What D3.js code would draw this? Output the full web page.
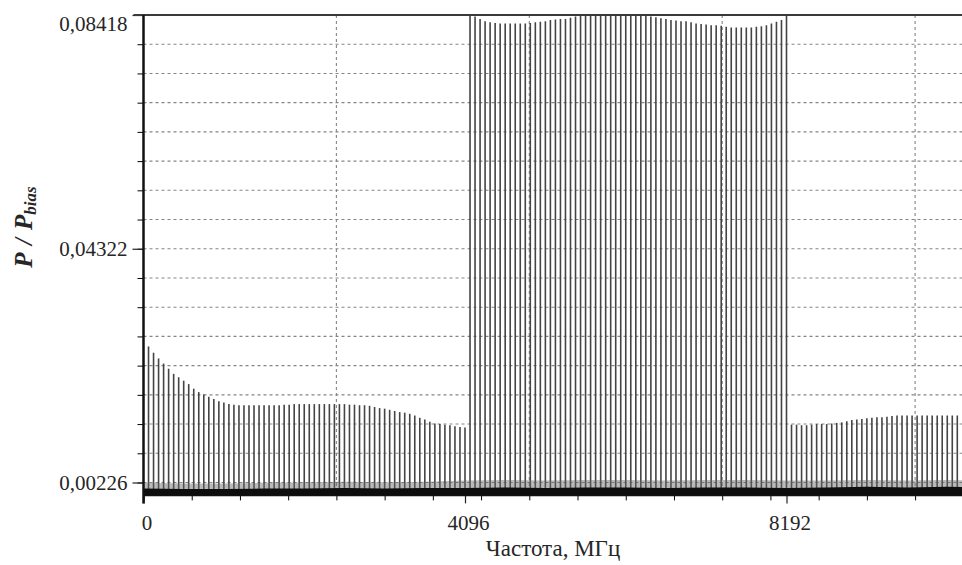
<!DOCTYPE html>
<html lang="ru">
<head>
    <meta charset="utf-8">
    <title>Спектр</title>
    <script src="https://d3js.org/d3.v7.min.js" charset="utf-8"></script>
    <style type="text/css">
        body { margin: 0; background: #fff; }
        text { font-family: "Liberation Serif", "Times New Roman", serif; fill: #262626; }
        .grid line { stroke: #858585; stroke-width: 1.1; stroke-dasharray: 3,3; }
        .spec { stroke: #444; stroke-width: 1.6; }
    </style>
</head>
<body>
<script type="text/javascript">
    // spectral lines every 64 MHz, first at 64
    var lineStep = 64;
    // 64 .. 4096
    var lowBandA = [
        0.0261, 0.0250, 0.0240, 0.0231, 0.0222, 0.0213, 0.0207, 0.0201, 0.0195, 0.0187,
        0.0181, 0.0177, 0.0173, 0.0169, 0.0165, 0.0163, 0.0160, 0.0159, 0.0158, 0.0158,
        0.0158, 0.0158, 0.0158, 0.0158, 0.0158, 0.0158, 0.0158, 0.0159, 0.0159, 0.0160,
        0.0160, 0.0160, 0.0160, 0.0160, 0.0160, 0.0160, 0.0160, 0.0160, 0.0160, 0.0160,
        0.0159, 0.0159, 0.0158, 0.0158, 0.0157, 0.0155, 0.0153, 0.0152, 0.0150, 0.0148,
        0.0146, 0.0145, 0.0143, 0.0140, 0.0136, 0.0133, 0.0129, 0.0126, 0.0125, 0.0124,
        0.0123, 0.0121, 0.0120, 0.0119
    ];
    // 4160 .. 8192
    var highBand = [
        0.0842, 0.0839, 0.0835, 0.0831, 0.0829, 0.0828, 0.0827, 0.0827, 0.0827, 0.0827,
        0.0827, 0.0827, 0.0828, 0.0829, 0.0830, 0.0831, 0.0833, 0.0834, 0.0835, 0.0835,
        0.0837, 0.0839, 0.0840, 0.0841, 0.0841, 0.0841, 0.0841, 0.0841, 0.0841, 0.0841,
        0.0841, 0.0841, 0.0841, 0.0841, 0.0840, 0.0840, 0.0839, 0.0838, 0.0836, 0.0835,
        0.0833, 0.0832, 0.0831, 0.0831, 0.0829, 0.0827, 0.0826, 0.0825, 0.0824, 0.0824,
        0.0823, 0.0821, 0.0820, 0.0820, 0.0820, 0.0820, 0.0820, 0.0821, 0.0822, 0.0824,
        0.0827, 0.0830, 0.0833, 0.0842
    ];
    // 8256 .. 10432
    var lowBandB = [
        0.0124, 0.0124, 0.0123, 0.0123, 0.0124, 0.0125, 0.0125, 0.0125, 0.0126, 0.0127,
        0.0128, 0.0130, 0.0132, 0.0133, 0.0134, 0.0135, 0.0136, 0.0137, 0.0137, 0.0138,
        0.0139, 0.0140, 0.0140, 0.0140, 0.0140, 0.0140, 0.0140, 0.0140, 0.0140, 0.0140,
        0.0140, 0.0140, 0.0140, 0.0140, 0.0140
    ];
    // noise floor, sampled every 512 MHz from 0
    var noiseStep = 512;
    var noiseFloor = [
        0.0012, 0.0011, 0.0011, 0.0012, 0.0012, 0.0013, 0.0012, 0.0013, 0.0013, 0.0014, 0.0013,
        0.0014, 0.0014, 0.0013, 0.0014, 0.0014, 0.0013, 0.0014, 0.0015, 0.0014, 0.0015, 0.0014
    ];
    var noisePeak = [
        0.0022, 0.0021, 0.0021, 0.0022, 0.0023, 0.0024, 0.0023, 0.0024, 0.0026, 0.0027, 0.0026,
        0.0027, 0.0027, 0.0026, 0.0027, 0.0027, 0.0026, 0.0026, 0.0027, 0.0026, 0.0027, 0.0026
    ];

    var yTickValues = [0.00226, 0.04322, 0.08418];
    var yTickLabels = ["0,00226", "0,04322", "0,08418"];
    var xTickValues = [0, 4096, 8192];
    var xTickLabels = ["0", "4096", "8192"];
    var xGridStep = 2457.6, xMinorStep = 614.4, yGridStep = 0.00512;

    var width = 962, height = 565;

    var svg = d3.select("body").append("svg")
        .attr("width", width)
        .attr("height", height);

    var x = d3.scaleLinear().domain([0, 8192]).range([143.5, 786.5]);
    var y = d3.scaleLinear().domain([0, 0.08418]).range([495.4, 15]);
    var xMax = x.invert(width);

    var lines = lowBandA.concat(highBand, lowBandB).map(function (v, i) {
        return { f: (i + 1) * lineStep, v: v };
    });
    var noise = noiseFloor.map(function (v, i) {
        return { f: i * noiseStep, lo: v, hi: noisePeak[i] };
    });

    var yGrid = d3.range(0, 16).map(function (i) { return yTickValues[0] + i * yGridStep; });
    var xGrid = d3.range(1, 5).map(function (i) { return i * xGridStep; });
    var xMinor = d3.range(0, 17).map(function (i) { return i * xMinorStep; });

    // grid
    var grid = svg.append("g").attr("class", "grid");
    grid.selectAll(".gy")
        .data(yGrid)
        .enter()
        .append("line")
        .attr("x1", x(0)).attr("x2", width)
        .attr("y1", function (d) { return y(d); })
        .attr("y2", function (d) { return y(d); });
    grid.selectAll(".gx")
        .data(xGrid)
        .enter()
        .append("line")
        .attr("x1", function (d) { return x(d); })
        .attr("x2", function (d) { return x(d); })
        .attr("y1", y(yTickValues[2])).attr("y2", y(0));

    // spectral lines
    svg.append("g")
        .selectAll("line")
        .data(lines.filter(function (d) { return d.f <= xMax; }))
        .enter()
        .append("line")
        .attr("class", "spec")
        .attr("x1", function (d) { return x(d.f); })
        .attr("x2", function (d) { return x(d.f); })
        .attr("y1", y(0))
        .attr("y2", function (d) { return y(d.v); });

    // noise
    svg.append("path")
        .datum(noise)
        .attr("fill", "#666")
        .attr("opacity", 0.45)
        .attr("d", d3.area()
            .x(function (d) { return x(d.f); })
            .y0(y(0))
            .y1(function (d) { return y(d.hi); }));
    svg.append("path")
        .datum(noise)
        .attr("fill", "#0d0d0d")
        .attr("d", d3.area()
            .x(function (d) { return x(d.f); })
            .y0(y(0))
            .y1(function (d) { return y(d.lo); }));

    // y axis
    svg.append("g")
        .attr("transform", "translate(" + x(0) + ",0)")
        .call(d3.axisLeft(y).tickValues(yGrid.concat([yTickValues[2]])).tickSize(6).tickSizeOuter(0).tickFormat(""))
        .call(function (g) { g.select(".domain").remove(); });

    var yAxis = svg.append("g")
        .attr("transform", "translate(" + x(0) + ",0)")
        .call(d3.axisLeft(y).tickValues(yTickValues).tickSize(11).tickPadding(5)
            .tickFormat(function (d, i) { return yTickLabels[i]; }))
        .call(function (g) { g.select(".domain").remove(); });
    yAxis.selectAll("line").attr("stroke", "#222").attr("stroke-width", 1.2);
    yAxis.selectAll("text")
        .attr("font-size", "21px")
        .attr("font-family", "Liberation Serif")
        .attr("fill", "#262626")
        .attr("dy", function (d) { return d === yTickValues[2] ? "0.73em" : "0.32em"; });

    // x axis
    svg.append("g")
        .attr("transform", "translate(0," + y(0) + ")")
        .call(d3.axisBottom(x).tickValues(xMinor.filter(function (d) { return d <= xMax; }))
            .tickSize(5).tickSizeOuter(0).tickFormat(""))
        .call(function (g) { g.select(".domain").remove(); });

    var xAxis = svg.append("g")
        .attr("transform", "translate(0," + y(0) + ")")
        .call(d3.axisBottom(x).tickValues(xTickValues).tickSize(8).tickPadding(12)
            .tickFormat(function (d, i) { return xTickLabels[i]; }))
        .call(function (g) { g.select(".domain").remove(); });
    xAxis.selectAll("line").attr("stroke", "#222").attr("stroke-width", 1.2);
    xAxis.selectAll("text")
        .attr("font-size", "21px")
        .attr("font-family", "Liberation Serif")
        .attr("fill", "#262626")
        .attr("dx", 3);

    // frame: bottom, left, top
    svg.append("line")
        .attr("x1", x(0)).attr("x2", width)
        .attr("y1", y(0)).attr("y2", y(0))
        .attr("stroke", "#111").attr("stroke-width", 1.5);
    svg.append("line")
        .attr("x1", x(0) - 10).attr("x2", width)
        .attr("y1", y(yTickValues[2])).attr("y2", y(yTickValues[2]))
        .attr("stroke", "#3a3a3a").attr("stroke-width", 2);
    svg.append("line")
        .attr("x1", x(0)).attr("x2", x(0))
        .attr("y1", y(yTickValues[2])).attr("y2", y(0) + 8)
        .attr("stroke", "#111").attr("stroke-width", 2.5);

    // titles
    svg.append("text")
        .attr("x", 553)
        .attr("y", 556)
        .attr("text-anchor", "middle")
        .attr("font-size", "23px")
        .text("Частота, МГц");

    var yTitle = svg.append("text")
        .attr("transform", "translate(32,227) rotate(-90)")
        .attr("text-anchor", "middle")
        .attr("font-size", "25px")
        .attr("font-weight", "bold")
        .attr("font-style", "italic")
        .attr("word-spacing", "2px");
    yTitle.append("tspan").text("P / P");
    yTitle.append("tspan").attr("font-size", "17px").attr("dy", 4).text("bias");
</script>
</body>
</html>
